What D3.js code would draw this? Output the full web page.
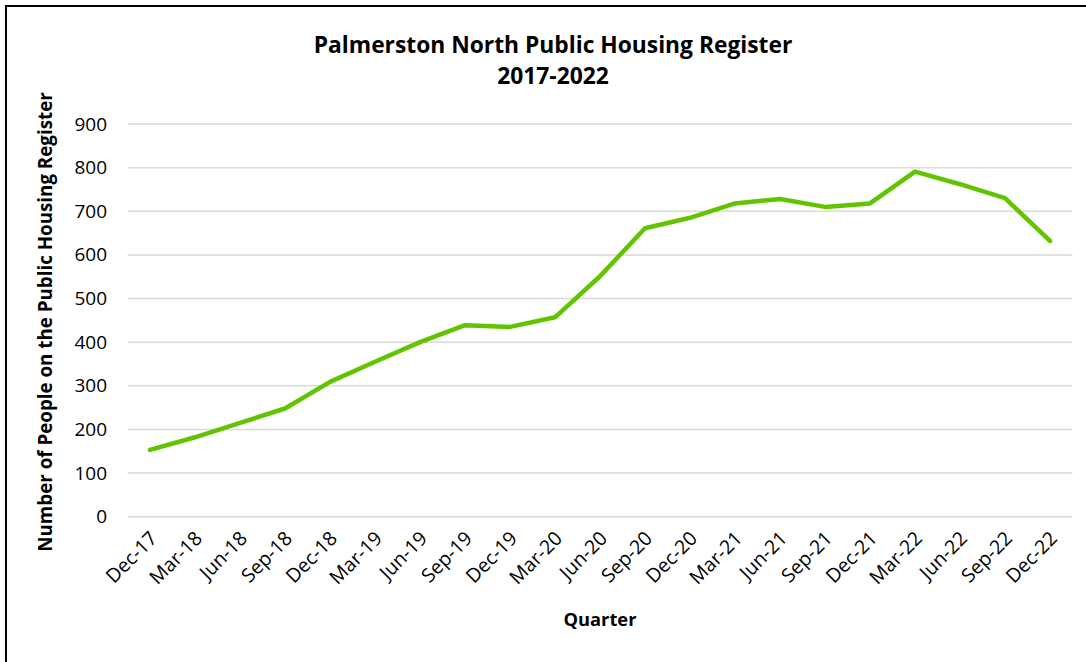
<!DOCTYPE html>
<html>
<head>
<meta charset="utf-8">
<script src="https://cdn.jsdelivr.net/npm/d3@7"></script>
<style>
  html, body { margin: 0; padding: 0; background: #fff; }
  text { font-family: "Open Sans", Lato, sans-serif; fill: #000; }
</style>
</head>
<body>
<div class="chart"></div>
<script>
// quarters and register counts
const quarters = ["Dec-17", "Mar-18", "Jun-18", "Sep-18", "Dec-18", "Mar-19", "Jun-19",
  "Sep-19", "Dec-19", "Mar-20", "Jun-20", "Sep-20", "Dec-20", "Mar-21", "Jun-21",
  "Sep-21", "Dec-21", "Mar-22", "Jun-22", "Sep-22", "Dec-22"];
const people = [153, 182, 215, 248, 309, 355, 400, 439, 435, 457, 551, 661, 685,
  718, 728, 710, 718, 791, 762, 730, 632];
const yTicks = [0, 100, 200, 300, 400, 500, 600, 700, 800, 900];

const width = 1086, height = 662;

const svg = d3.select(".chart")
  .append("svg")
  .attr("width", width)
  .attr("height", height);

// chart frame (runs off the right/bottom edges like the original)
svg.append("rect")
  .attr("x", 6).attr("y", 6)
  .attr("width", 1100).attr("height", 700)
  .attr("fill", "#fff")
  .attr("stroke", "#000")
  .attr("stroke-width", 2);

// scales
const x = d3.scalePoint()
  .domain(quarters)
  .range([127.5, 1072.5])
  .padding(0.5);

const y = d3.scaleLinear()
  .domain([0, 900])
  .range([516.7, 124]);

// fit text to a measured width
const fit = (sel, w) => {
  const node = sel.node();
  const size = parseFloat(sel.attr("font-size"));
  sel.attr("font-size", size * w / node.getComputedTextLength());
};

// gridlines
svg.append("g")
  .selectAll("line")
  .data(yTicks)
  .enter()
    .append("line")
    .attr("x1", 127.5)
    .attr("x2", 1072.5)
    .attr("y1", d => y(d))
    .attr("y2", d => y(d))
    .attr("stroke", "#d9d9d9")
    .attr("stroke-width", 1.5);

// y axis labels
const yAxis = svg.append("g")
  .attr("transform", "translate(107,0)")
  .call(d3.axisLeft(y).tickValues(yTicks).tickSize(0).tickPadding(0));
yAxis.select(".domain").remove();
yAxis.selectAll("text")
  .attr("font-size", 19)
  .attr("font-family", "Open Sans")
  .attr("fill", "#000");

// x axis labels
const xAxis = svg.append("g")
  .attr("transform", "translate(0,516.7)")
  .call(d3.axisBottom(x).tickSize(0).tickPadding(0));
xAxis.select(".domain").remove();
xAxis.selectAll("text")
  .attr("font-size", 19.5)
  .attr("font-family", "Open Sans")
  .attr("fill", "#000")
  .attr("text-anchor", "end")
  .attr("dy", 0)
  .attr("y", 0)
  .attr("transform", "translate(8,23) rotate(-45)");

// the line
const line = d3.line()
  .x((d, i) => x(quarters[i]))
  .y(d => y(d));

svg.append("path")
  .datum(people)
  .attr("d", line)
  .attr("fill", "none")
  .attr("stroke", "#62c400")
  .attr("stroke-width", 4.5)
  .attr("stroke-linejoin", "round")
  .attr("stroke-linecap", "round");

// titles
const t1 = svg.append("text")
  .attr("x", 553).attr("y", 53)
  .attr("text-anchor", "middle")
  .attr("font-weight", "bold")
  .attr("font-size", 20)
  .text("Palmerston North Public Housing Register");
fit(t1, 479);
const t2 = svg.append("text")
  .attr("x", 553).attr("y", 84)
  .attr("text-anchor", "middle")
  .attr("font-weight", "bold")
  .attr("font-size", t1.attr("font-size"))
  .text("2017-2022");

const yTitle = svg.append("text")
  .attr("transform", "translate(52,322) rotate(-90)")
  .attr("text-anchor", "middle")
  .attr("font-weight", "bold")
  .attr("font-size", 17)
  .text("Number of People on the Public Housing Register");
fit(yTitle, 460);

const xTitle = svg.append("text")
  .attr("x", 600).attr("y", 626)
  .attr("text-anchor", "middle")
  .attr("font-weight", "bold")
  .attr("font-size", 17)
  .text("Quarter");
fit(xTitle, 73);
</script>
</body>
</html>
